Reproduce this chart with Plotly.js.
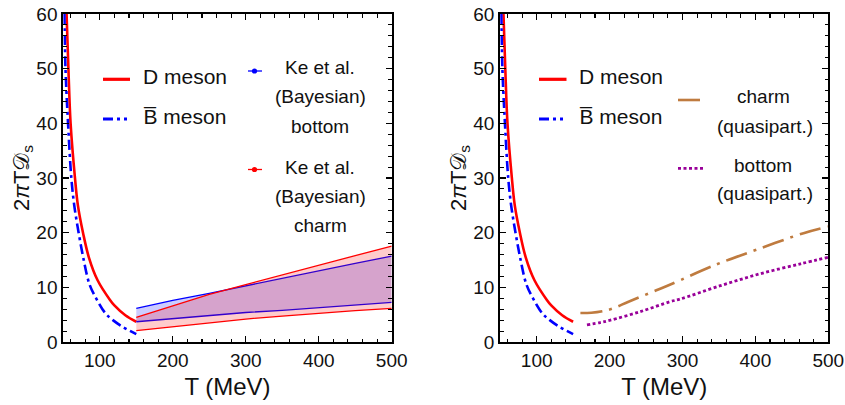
<!DOCTYPE html>
<html><head><meta charset="utf-8">
<script src="https://cdn.plot.ly/plotly-3.0.1.min.js"></script>
<style>html,body{margin:0;padding:0;background:#fff}</style>
</head><body><div id="chart" style="width:845px;height:405px"></div>
<script>
// ---- data ----
const T_D = [54.5, 57, 60, 66, 70, 77, 85, 97, 114, 120, 135, 150];
const D_meson = [60, 50, 40, 30, 25, 20, 15.5, 11.3, 7.7, 6.7, 4.9, 3.7];
const T_B = [51.5, 53, 56.5, 61, 65, 71, 78, 86, 95, 108, 118, 131, 150];
const B_meson = [60, 50, 40, 30, 25, 20, 15, 10.5, 8, 5.2, 4, 2.8, 1.45];
const T_ke = [150, 200, 250, 300, 350, 400, 450, 500];
const keBottomHigh = [6.15, 7.6, 8.9, 10.3, 11.7, 13.05, 14.4, 15.7];
const keBottomLow = [3.7, 4.3, 4.9, 5.4, 5.8, 6.3, 6.8, 7.25];
const keCharmHigh = [4.5, 6.6, 8.7, 10.5, 12.3, 14.05, 15.8, 17.55];
const keCharmLow = [2.07, 2.8, 3.5, 4.2, 4.75, 5.3, 5.75, 6.15];
const T_qc = [160, 175, 192, 205, 226, 265, 285, 345, 404, 466, 500];
const charmQuasi = [5.3, 5.35, 5.67, 6.16, 7.37, 9.5, 10.6, 14.1, 17.0, 19.9, 21.1];
const T_qb = [169, 187, 200, 242, 283, 297, 352, 407, 462, 500];
const bottomQuasi = [3.15, 3.55, 3.95, 5.55, 7.37, 7.86, 10.3, 12.5, 14.3, 15.5];
const xTicks = [100, 200, 300, 400, 500];
const yTicks = [0, 10, 20, 30, 40, 50, 60];

// ---- styles ----
const RED = '#ff0000', BLUE = '#0000ff', BROWN = '#bf7b3f', PURPLE = '#990099';
const FONT = 'Liberation Sans, Arial, Helvetica, sans-serif';
const W = 845, H = 405;
const fx = x => x / W, fy = y => 1 - y / H;
const dashB = '10px,4px,3px,4px';
const dashC = '22px,7px,3px,7px';
const dashQ = '3px,2.5px';

const traces = [];
function curves(xa, ya) {
  traces.push({x: T_D, y: D_meson, xaxis: xa, yaxis: ya, mode: 'lines', line: {color: RED, width: 2.6, shape: 'spline'}, name: 'D meson'});
  traces.push({x: T_B, y: B_meson, xaxis: xa, yaxis: ya, mode: 'lines', line: {color: BLUE, width: 2.6, dash: dashB, shape: 'spline'}, name: 'B meson'});
}
curves('x', 'y');
// Ke et al bands (left)
traces.push({x: T_ke, y: keBottomLow, xaxis: 'x', yaxis: 'y', mode: 'lines', line: {color: BLUE, width: 1.3}, name: 'Ke bottom low'});
traces.push({x: T_ke, y: keBottomHigh, xaxis: 'x', yaxis: 'y', mode: 'lines', fill: 'tonexty', fillcolor: 'rgba(0,0,255,0.2)', line: {color: BLUE, width: 1.3}, name: 'Ke bottom high'});
traces.push({x: T_ke, y: keCharmLow, xaxis: 'x', yaxis: 'y', mode: 'lines', line: {color: RED, width: 1.3}, name: 'Ke charm low'});
traces.push({x: T_ke, y: keCharmHigh, xaxis: 'x', yaxis: 'y', mode: 'lines', fill: 'tonexty', fillcolor: 'rgba(255,0,0,0.2)', line: {color: RED, width: 1.3}, name: 'Ke charm high'});
// right
curves('x2', 'y2');
traces.push({x: T_qc, y: charmQuasi, xaxis: 'x2', yaxis: 'y2', mode: 'lines', line: {color: BROWN, width: 2.6, dash: dashC, shape: 'spline'}, name: 'charm quasipart'});
traces.push({x: T_qb, y: bottomQuasi, xaxis: 'x2', yaxis: 'y2', mode: 'lines', line: {color: PURPLE, width: 2.8, dash: dashQ, shape: 'spline'}, name: 'bottom quasipart'});

const axisCommon = {
  showline: true, linecolor: 'black', linewidth: 2, mirror: 'allticks',
  ticks: 'inside', ticklen: 6, tickwidth: 1.4, tickcolor: 'black',
  showgrid: false, zeroline: false, fixedrange: true,
  tickfont: {size: 19, color: '#111', family: FONT}
};
function xax(dom, anchor) {
  return Object.assign({}, axisCommon, {
    domain: dom, anchor: anchor, range: [50, 500], tickmode: 'array', tickvals: xTicks, ticktext: xTicks.map(String),
    minor: {ticks: 'inside', ticklen: 3.5, tickwidth: 1.1, tickcolor: 'black', dtick: 20, tick0: 0, showgrid: false},
    title: {text: 'T (MeV)', font: {size: 24, color: '#111', family: FONT}, standoff: 8}
  });
}
function yax(anchor) {
  return Object.assign({}, axisCommon, {
    domain: [fy(342), fy(14)], anchor: anchor, range: [0, 60], tickmode: 'array', tickvals: yTicks, ticktext: yTicks.map(String),
    minor: {ticks: 'inside', ticklen: 3.5, tickwidth: 1.1, tickcolor: 'black', dtick: 2, tick0: 0, showgrid: false},
    title: {text: '2<i>π</i>T𝒟<sub>s</sub>', font: {size: 22, color: '#111', family: FONT}, standoff: 1}
  });
}

const annotations = [];
const shapes = [];
function txt(x, y, s, anchor, size) {
  annotations.push({xref: 'paper', yref: 'paper', x: fx(x), y: fy(y), text: s, showarrow: false,
    xanchor: anchor || 'left', yanchor: 'middle', font: {size: size || 19, color: '#111', family: FONT}});
}
function sample(x0, x1, y, color, width, dash) {
  shapes.push({type: 'line', xref: 'paper', yref: 'paper', x0: fx(x0), x1: fx(x1), y0: fy(y), y1: fy(y),
    line: {color: color, width: width, dash: dash || 'solid'}});
}
function dot(x, y, color) {
  const r = 2.6;
  shapes.push({type: 'circle', xref: 'paper', yref: 'paper', x0: fx(x - r), x1: fx(x + r), y0: fy(y + r), y1: fy(y - r),
    fillcolor: color, line: {width: 0}});
}
// left legend
sample(103, 130, 79.3, RED, 3.2);
txt(140.5, 76, 'D meson', 'left', 21);
sample(103, 127, 119, BLUE, 3, dashB);
txt(140.5, 116, 'B̅ meson', 'left', 21);
sample(248, 262, 71, BLUE, 1.3); dot(254.5, 71, BLUE);
txt(320, 68, 'Ke et al.', 'center');
txt(320, 97, '(Bayesian)', 'center');
txt(320, 126, 'bottom', 'center');
sample(248, 262, 169.5, RED, 1.3); dot(254.5, 169.5, RED);
txt(320, 167, 'Ke et al.', 'center');
txt(320, 196, '(Bayesian)', 'center');
txt(320, 225, 'charm', 'center');
// right legend
sample(539, 566.5, 79.3, RED, 3.2);
txt(577, 76, 'D meson', 'left', 21);
sample(539, 563, 119, BLUE, 3, dashB);
txt(577, 116, 'B̅ meson', 'left', 21);
sample(678, 702, 100, BROWN, 2.6, dashC);
txt(763, 97, 'charm', 'center');
txt(765, 127, '(quasipart.)', 'center');
sample(678, 703, 168.3, PURPLE, 2.8, dashQ);
txt(763, 165, 'bottom', 'center');
txt(765, 194, '(quasipart.)', 'center');

const layout = {
  width: W, height: H, margin: {l: 0, r: 0, t: 0, b: 0},
  paper_bgcolor: 'white', plot_bgcolor: 'white', showlegend: false,
  font: {family: FONT, color: '#111'},
  xaxis: xax([fx(63.3), fx(391.7)], 'y'),
  yaxis: yax('x'),
  xaxis2: xax([fx(500.2), fx(828.3)], 'y2'),
  yaxis2: yax('x2'),
  annotations: annotations, shapes: shapes
};
Plotly.newPlot('chart', traces, layout, {staticPlot: true});
</script></body></html>
